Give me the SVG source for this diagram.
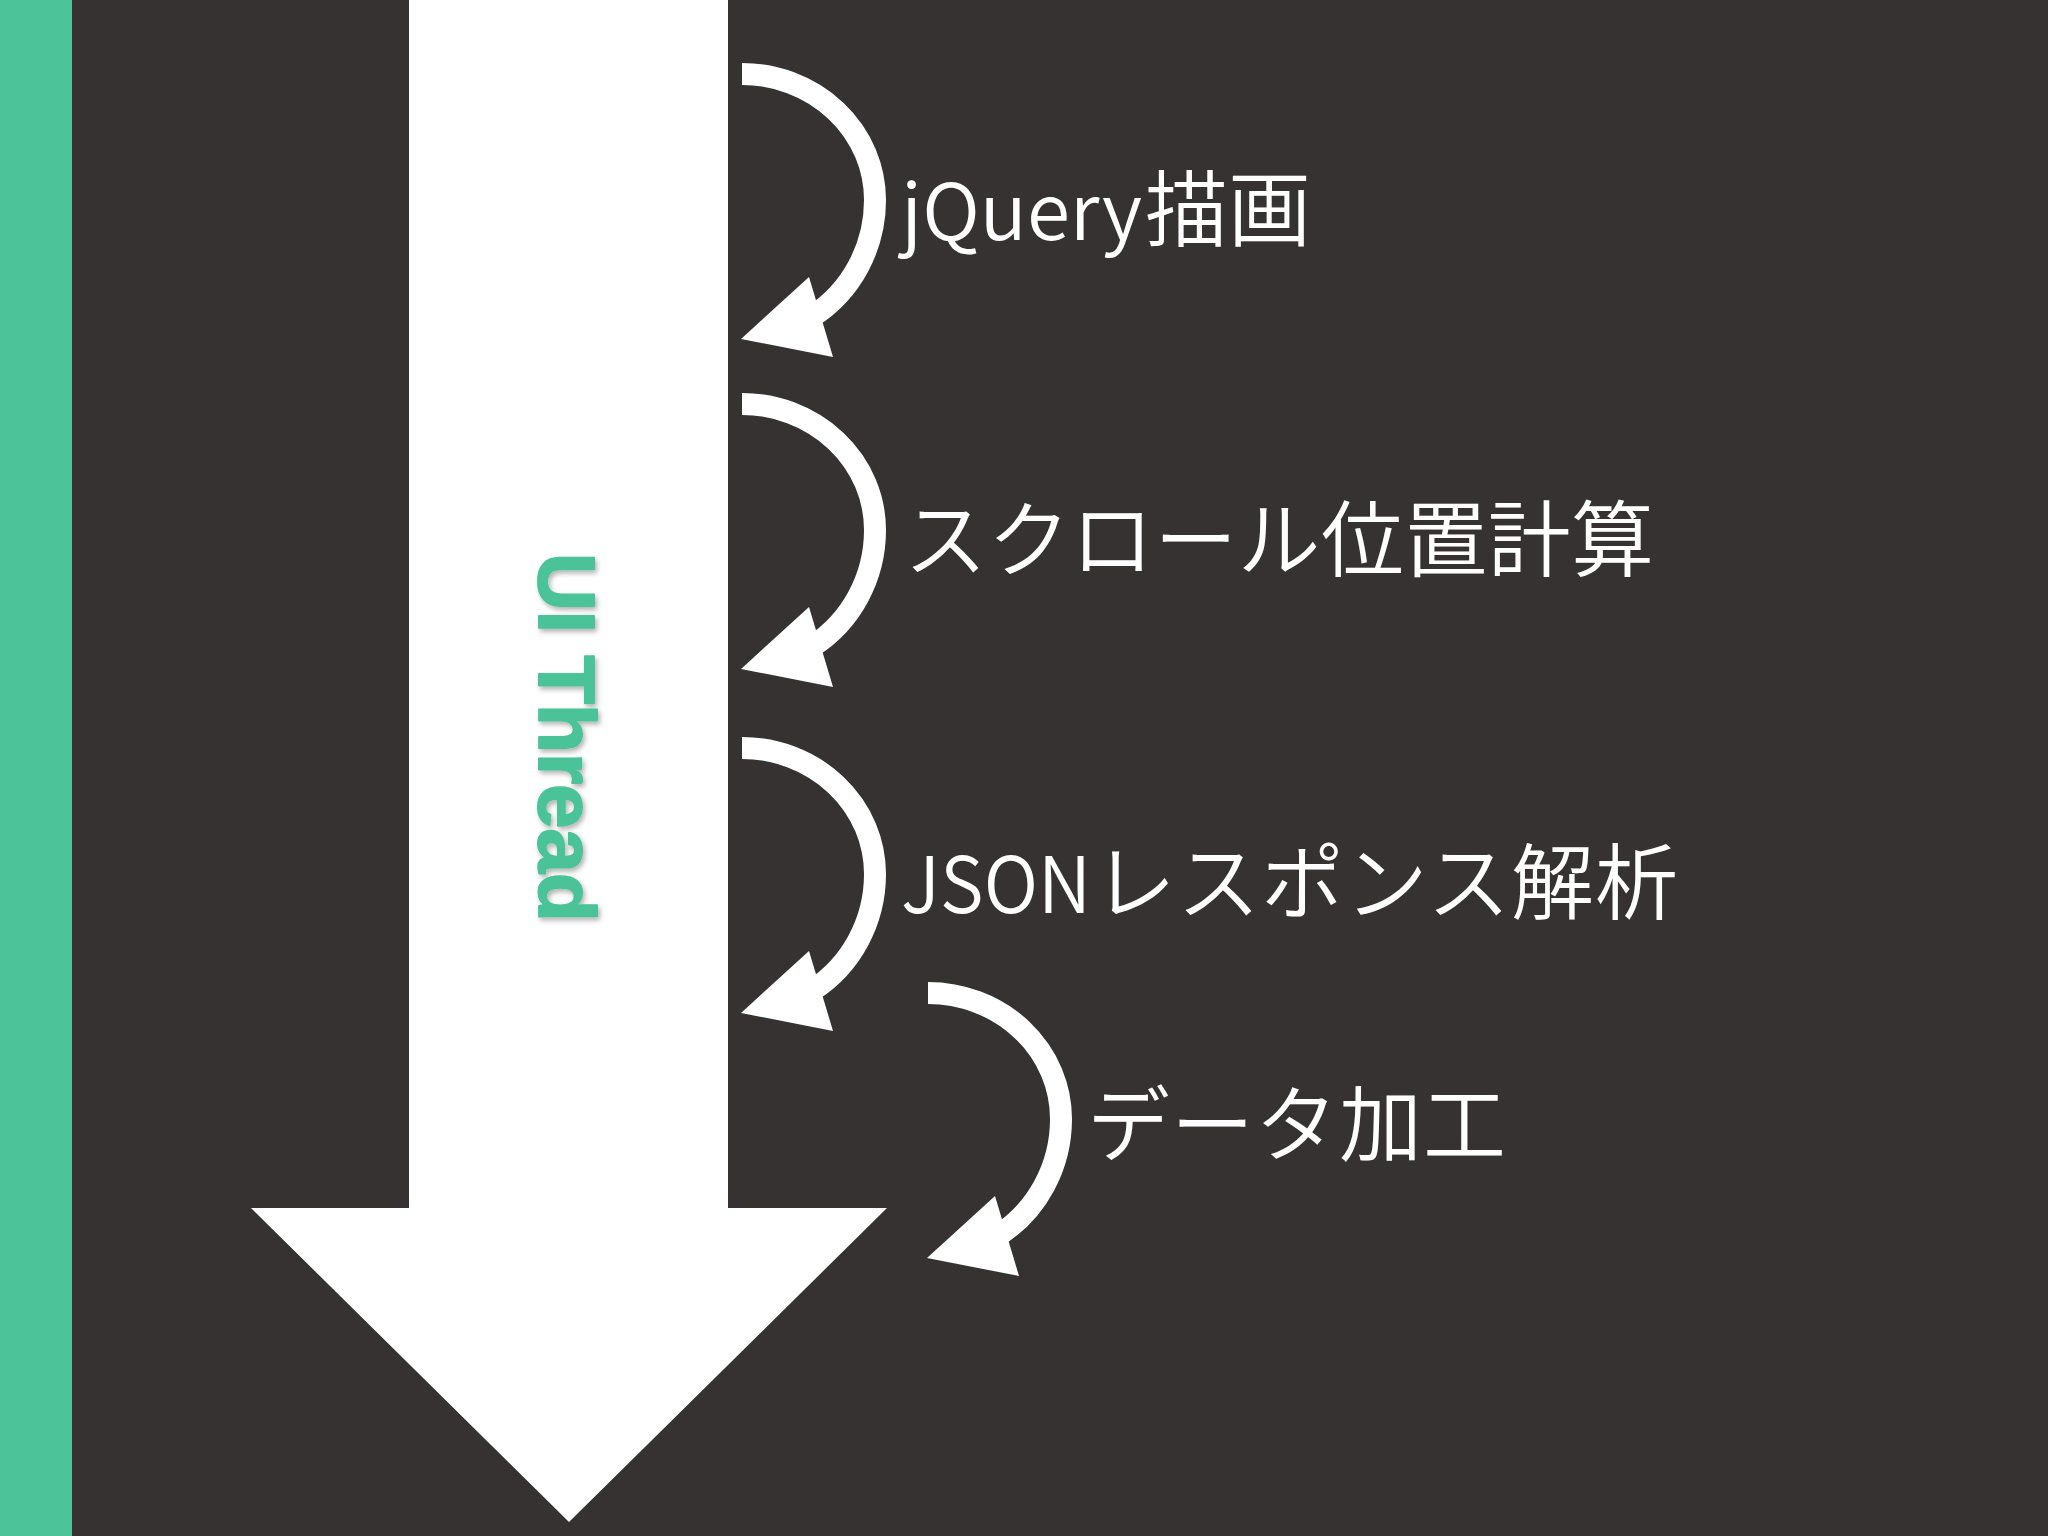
<svg xmlns="http://www.w3.org/2000/svg" xmlns:xlink="http://www.w3.org/1999/xlink" width="2048" height="1536" viewBox="0 0 2048 1536">
  <style>
    .cjk { font-family: "Noto Sans CJK JP", "Noto Sans", sans-serif; font-size: 83px; font-weight: 350; fill: #ffffff; }
    .latin { font-family: "Noto Sans CJK JP", "Noto Sans", sans-serif; font-size: 78px; font-weight: 350; fill: #ffffff; }
    .thread { font-family: "Liberation Sans", "DejaVu Sans", sans-serif; font-weight: 700; font-size: 80px; fill: #4cc399; stroke: #4cc399; stroke-width: 2; stroke-linejoin: round; }
    .curl-line { fill: none; stroke: #ffffff; stroke-width: 22; stroke-linecap: butt; }
    .curl-head { fill: #ffffff; }
  </style>
  <defs>
    <filter id="soft" x="-20%" y="-20%" width="140%" height="140%">
      <feDropShadow dx="2" dy="3" stdDeviation="2.5" flood-color="#000000" flood-opacity="0.3"/>
    </filter>
    <g id="curl">
      <path class="curl-line" d="M 0 0 A 133 126 0 0 1 133 126 A 133 137 0 0 1 70.5 242.2"/>
      <polygon class="curl-head" points="67,203 91,283 -1,265"/>
    </g>
  </defs>

  <rect id="background" x="0" y="0" width="2048" height="1536" fill="#353231"/>
  <rect id="side-strip" x="0" y="0" width="72" height="1536" fill="#4cc399"/>

  <g id="ui-thread">
    <polygon fill="#ffffff" points="409,0 728,0 728,1208 887,1208 569,1522 251,1208 409,1208"/>
    <g filter="url(#soft)">
      <text class="thread" font-weight="700" transform="translate(539,553) rotate(90)" x="0" y="0">UI Thread</text>
    </g>
  </g>

  <g id="connectors">
    <use xlink:href="#curl" href="#curl" x="742" y="74"/>
    <use xlink:href="#curl" href="#curl" x="742" y="404"/>
    <use xlink:href="#curl" href="#curl" x="742" y="748"/>
    <use xlink:href="#curl" href="#curl" x="928" y="993"/>
  </g>

  <g id="step-jquery">
    <text class="latin" x="901" y="240" textLength="241" lengthAdjust="spacingAndGlyphs">jQuery</text>
    <text class="cjk" x="1145" y="240" textLength="166">描画</text>
  </g>
  <g id="step-scroll">
    <text class="cjk" x="904" y="570" textLength="750">スクロール位置計算</text>
  </g>
  <g id="step-json">
    <text class="latin" x="901" y="913" textLength="190" lengthAdjust="spacingAndGlyphs">JSON</text>
    <text class="cjk" x="1093" y="913" textLength="585">レスポンス解析</text>
  </g>
  <g id="step-data">
    <text class="cjk" x="1087" y="1155" textLength="419">データ加工</text>
  </g>
</svg>
